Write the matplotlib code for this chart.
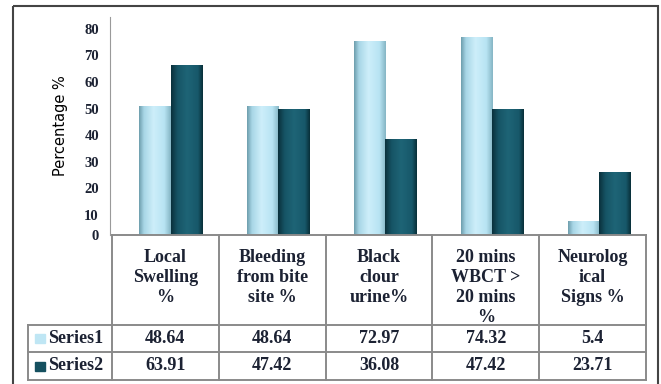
import numpy as np
import matplotlib
matplotlib.use("Agg")
import matplotlib.pyplot as plt
from matplotlib.colors import LinearSegmentedColormap
from matplotlib.patches import Rectangle
from matplotlib.transforms import ScaledTranslation

# data
categories = ["Local\nSwelling\n%", "Bleeding\nfrom bite\nsite %", "Black\nclour\nurine%",
              "20 mins\nWBCT >\n20 mins\n%", "Neurolog\nical\nSigns %"]
series_names = ["Series1", "Series2"]
series1 = [48.64, 48.64, 72.97, 74.32, 5.4]
series2 = [63.91, 47.42, 36.08, 47.42, 23.71]
yticks = [0, 10, 20, 30, 40, 50, 60, 70, 80]

W, H = 661, 384
fig = plt.figure(figsize=(W / 100, H / 100), dpi=100)
serif = "Liberation Serif"
txt_col = "#1c2233"

# cylinder-ish colour ramps
light = LinearSegmentedColormap.from_list("light", [(0, "#6f9fae"), (0.15, "#a8d6e6"), (0.45, "#cdeefa"),
                                                     (0.8, "#b8e4f3"), (1, "#86b6c5")])
dark = LinearSegmentedColormap.from_list("dark", [(0, "#0a313c"), (0.2, "#165465"), (0.5, "#1e6476"),
                                                   (0.85, "#17586a"), (1, "#09303a")])
legend_cols = ["#bfe6f4", "#15505f"]

# main axes: pixel box 110..646 x 17..235
ax = fig.add_axes([110 / W, 1 - 235 / H, 536 / W, 218 / H])
x = np.arange(len(categories))
bw = 0.29
shift = 0.065
grad = np.linspace(0, 1, 64).reshape(1, -1)
for vals, cmap, off in [(series1, light, -bw / 2), (series2, dark, bw / 2)]:
    bars = ax.bar(x + off + shift, vals, bw, color="none", edgecolor="none", zorder=2)
    for b in bars:
        im = ax.imshow(grad, cmap=cmap, aspect="auto", zorder=2,
                       extent=[b.get_x(), b.get_x() + b.get_width(), 0, b.get_height()])
        im.set_clip_path(b)

ax.set_xlim(-0.5, len(categories) - 0.5)
ax.set_ylim(0, 82)
ax.set_xticks([])
ax.set_yticks(yticks)
ax.set_yticklabels([str(t) for t in yticks], fontfamily=serif, fontweight="bold",
                   fontsize=10.5, color=txt_col)
ax.tick_params(axis="y", length=0, pad=8)
# the 3D-style floor puts the labels a little below the bar scale
for t, lab in zip(yticks, ax.get_yticklabels()):
    if t > 0:
        lab.set_transform(lab.get_transform() + ScaledTranslation(0, -0.065, fig.dpi_scale_trans))
for s in ["top", "right", "bottom"]:
    ax.spines[s].set_visible(False)
ax.spines["left"].set_color("#9a9a9a")
ax.set_ylabel("Percentage %", fontsize=10.5, color="black", labelpad=12)

# data table drawn in pixel coordinates
tx = fig.add_axes([0, 0, 1, 1], zorder=3)
tx.set_xlim(0, W)
tx.set_ylim(H, 0)
tx.axis("off")
grid_c = "#8a8a8a"
col_edges = [112 + i * 106.8 for i in range(len(categories) + 1)]
y_head, y_r1, y_r2, y_end = 235, 325, 352, 380
lw = 1.4
tx.plot([col_edges[0], col_edges[-1]], [y_head, y_head], color=grid_c, lw=lw)
for yy in [y_r1, y_r2, y_end]:
    tx.plot([28, col_edges[-1]], [yy, yy], color=grid_c, lw=lw)
for xe in col_edges:
    tx.plot([xe, xe], [y_head, y_end], color=grid_c, lw=lw)
tx.plot([28, 28], [y_r1, y_end], color=grid_c, lw=lw)

fs = 13
for i, lab in enumerate(categories):
    cx = (col_edges[i] + col_edges[i + 1]) / 2
    tx.text(cx, 249, lab, ha="center", va="top", fontfamily=serif, fontweight="bold",
            fontsize=fs, color=txt_col, linespacing=1.22)
    for vals, yy in [(series1, 338.5), (series2, 366)]:
        tx.text(cx, yy, f"{vals[i]:g}", ha="center", va="center", fontfamily=serif,
                fontweight="bold", fontsize=fs, color=txt_col)

for name, c, yy in [(series_names[0], legend_cols[0], 338.5),
                    (series_names[1], legend_cols[1], 366)]:
    tx.add_patch(Rectangle((35, yy - 4.5), 10, 9, color=c))
    tx.text(48, yy, name, ha="left", va="center", fontfamily=serif, fontweight="bold",
            fontsize=fs, color=txt_col)

# outer chart border
tx.add_patch(Rectangle((13, 6), 645, 400, fill=False, edgecolor="#444444", lw=1.5))

fig.savefig("out.png", dpi=100)
